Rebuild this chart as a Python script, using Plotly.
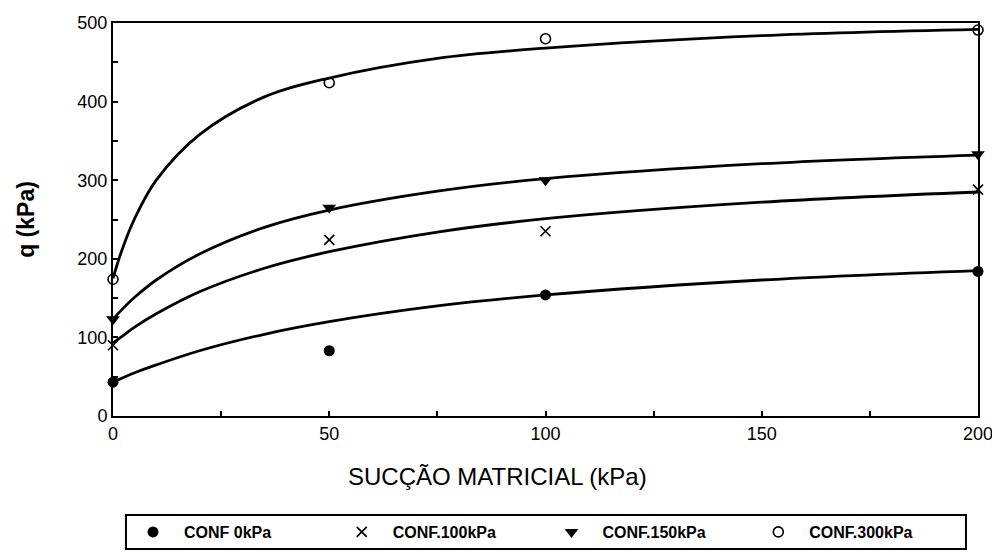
import plotly.graph_objects as go

# Measured points
suction = [0, 50, 100, 200]
conf0 = [43, 83, 154, 184]
conf100 = [90, 224, 235, 288]
conf150 = [123, 265, 300, 333]
conf300 = [174, 424, 480, 491]

# Fitted curves
curve_s = [0, 2, 5, 10, 20, 35, 50, 75, 100, 150, 200]
curve0 = [43, 48, 55, 65, 83, 104, 120, 140, 154, 173, 185]
curve100 = [93, 101, 113, 130, 158, 188, 209, 234, 251, 272, 285]
curve150 = [123, 135, 151, 173, 206, 240, 262, 286, 302, 321, 332]
curve300 = [175, 210, 251, 300, 358, 406, 430, 455, 468, 484, 492]

names = ["CONF 0kPa", "CONF.100kPa", "CONF.150kPa", "CONF.300kPa"]
symbols = ["circle", "x-thin", "triangle-down", "circle-open"]
points = [conf0, conf100, conf150, conf300]
curves = [curve0, curve100, curve150, curve300]
legend_ids = ["legend", "legend2", "legend3", "legend4"]
legend_x = [0.0104, 0.2517, 0.4942, 0.7333]

x_title = "SUCÇÃO MATRICIAL (kPa)"
y_title = "q (kPa)"

FONT = "Liberation Sans, Arial, sans-serif"

fig = go.Figure()
for c in curves:
    fig.add_trace(go.Scatter(x=curve_s, y=c, mode="lines",
                             line=dict(color="black", width=2.8, shape="spline"),
                             showlegend=False, hoverinfo="skip"))
for n, sym, p, lid in zip(names, symbols, points, legend_ids):
    mk = dict(symbol=sym, color="black", size=11)
    if sym == "x-thin":
        mk["line"] = dict(color="black", width=1.6)
        mk["size"] = 10
    elif sym == "circle-open":
        mk["line"] = dict(color="black", width=1.6)
        mk["size"] = 10
    elif sym == "triangle-down":
        mk["size"] = 12
    fig.add_trace(go.Scatter(x=suction, y=p, mode="markers", name=n, marker=mk,
                             cliponaxis=False, legend=lid))

axis_common = dict(showline=True, linecolor="black", linewidth=2, mirror=True, ticks="inside",
                   ticklen=5, tickwidth=1.5, tickcolor="black", showgrid=False, zeroline=False,
                   ticklabeloverflow="allow",
                   tickfont=dict(family=FONT, size=18, color="black"))

leg_common = dict(orientation="h", xanchor="left", y=-0.2952, yanchor="middle",
                  borderwidth=0, bgcolor="rgba(0,0,0,0)",
                  font=dict(family=FONT, size=16, color="black", weight="bold"),
                  itemwidth=52)

layout_legends = {}
for lid, lx in zip(legend_ids, legend_x):
    layout_legends[lid] = dict(x=lx, **leg_common)

fig.update_layout(
    width=992, height=552,
    margin=dict(l=113, r=14, t=23, b=136, autoexpand=False),
    plot_bgcolor="white", paper_bgcolor="white",
    xaxis=dict(range=[0, 200], tickvals=[0, 25, 50, 75, 100, 125, 150, 175, 200],
               ticktext=["0", "", "50", "", "100", "", "150", "", "200"],
               **axis_common),
    yaxis=dict(range=[0, 500], tickvals=[0, 50, 100, 150, 200, 250, 300, 350, 400, 450, 500],
               ticktext=["0", "", "100", "", "200", "", "300", "", "400", "", "500"],
               title=dict(text="<b>" + y_title + "</b>", font=dict(family=FONT, size=23, color="black"),
                          standoff=36),
               **axis_common),
    annotations=[dict(text=x_title, xref="paper", yref="paper", x=0.4446, y=-0.1527,
                      xanchor="center", yanchor="middle", showarrow=False,
                      font=dict(family=FONT, size=24, color="black"))],
    shapes=[dict(type="rect", xref="paper", yref="paper", x0=0.015, x1=0.9861,
                 y0=-0.3384, y1=-0.2519, line=dict(color="black", width=2), fillcolor="rgba(0,0,0,0)")],
    showlegend=True,
    **layout_legends,
)

fig.write_html("out.html")
